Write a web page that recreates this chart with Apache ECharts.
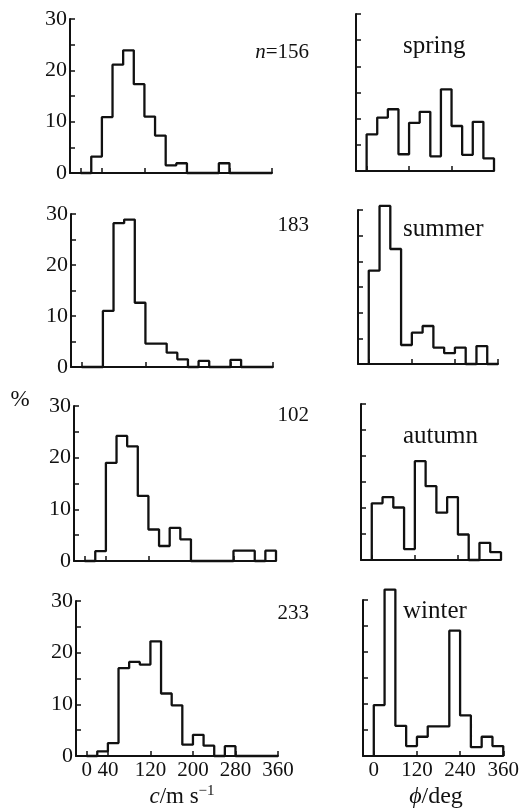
<!DOCTYPE html>
<html>
<head>
    <meta charset="utf-8">
    <title>speed / direction histograms</title>
    <style>
        html, body { margin: 0; padding: 0; background: #fff; }
        #main { width: 522px; height: 808px; }
    </style>
</head>
<body>
    <div id="main"></div>
    <script src="https://cdn.jsdelivr.net/npm/echarts@6/dist/echarts.min.js"></script>
    <script>
        // bin edges
        var speedEdges = [0, 20, 40, 60, 80, 100, 120, 140, 160, 180, 200, 220, 240, 260, 280, 300, 320, 340, 360];
        var dirEdges = [0, 30, 60, 90, 120, 150, 180, 210, 240, 270, 300, 330, 360];
        var speedTicks = [0, 40, 120, 200, 280, 360];
        var dirTicks = [0, 120, 240, 360];
        var seasons = ['spring', 'summer', 'autumn', 'winter'];
        var counts = ['156', '183', '102', '233'];

        // % per bin, speed c (m/s)
        var speedSpring = [0, 3.2, 10.9, 21.1, 23.9, 17.3, 11.0, 7.3, 1.5, 1.9, 0, 0, 0, 1.9, 0, 0, 0, 0];
        var speedSummer = [0, 0, 11.0, 28.2, 28.9, 12.6, 4.6, 4.6, 2.8, 1.5, 0, 1.2, 0, 0, 1.4, 0, 0, 0];
        var speedAutumn = [0, 1.9, 19.0, 24.2, 22.2, 12.6, 6.1, 2.9, 6.4, 4.2, 0, 0, 0, 0, 2.0, 2.0, 0, 2.0];
        var speedWinter = [0, 0.9, 2.5, 17.0, 18.2, 17.7, 22.2, 12.1, 9.8, 2.2, 4.1, 2.0, 0, 1.9, 0, 0, 0, 0];

        // % per bin, direction phi (deg)
        var dirSpring = [7.0, 10.2, 11.8, 3.2, 9.2, 11.3, 2.8, 15.6, 8.6, 3.1, 9.4, 2.4];
        var dirSummer = [18.2, 30.8, 22.4, 3.7, 6.1, 7.4, 3.2, 2.1, 3.2, 0, 3.5, 0];
        var dirAutumn = [10.9, 12.1, 10.1, 2.1, 19.0, 14.2, 9.1, 12.1, 4.9, 0, 3.3, 1.5];
        var dirWinter = [9.8, 32.0, 5.8, 1.9, 3.7, 5.7, 5.7, 24.1, 7.8, 1.7, 3.7, 1.9];

        var speedData = [speedSpring, speedSummer, speedAutumn, speedWinter];
        var dirData = [dirSpring, dirSummer, dirAutumn, dirWinter];

        var ink = '#111';
        var serif = '"Liberation Serif", "DejaVu Serif", serif';

        // panel boxes (px)
        var leftBoxes = [
            {left: 70, top: 19, width: 202, height: 154},
            {left: 71, top: 214, width: 202, height: 153},
            {left: 74, top: 406, width: 202, height: 155},
            {left: 76, top: 601, width: 202, height: 155}
        ];
        var rightBoxes = [
            {left: 356, top: 14, width: 138, height: 157},
            {left: 358, top: 210, width: 140, height: 154},
            {left: 361, top: 404, width: 140, height: 156},
            {left: 363, top: 600, width: 141, height: 156}
        ];

        // outline of a histogram: steps built from bin edges and values
        function outline(edges, vals) {
            var pts = [[edges[0], 0]];
            for (var i = 0; i < vals.length; i++) {
                pts.push([edges[i], vals[i]]);
                pts.push([edges[i + 1], vals[i]]);
            }
            pts.push([edges[vals.length], 0]);
            return pts;
        }

        var grids = [], xAxes = [], yAxes = [], series = [];

        function addPanel(box, min, ticks, showX, showY, edges, vals) {
            var k = grids.length;
            grids.push({left: box.left, top: box.top, width: box.width, height: box.height});
            xAxes.push({
                gridIndex: k, type: 'value', min: min, max: 360,
                axisLine: {onZero: false, lineStyle: {color: ink, width: 2}},
                axisTick: {inside: true, length: 5, customValues: ticks, lineStyle: {color: ink, width: 1.5}},
                axisLabel: {show: showX, customValues: ticks, margin: 4, color: ink,
                    fontFamily: serif, fontSize: 21},
                splitLine: {show: false}
            });
            yAxes.push({
                gridIndex: k, type: 'value', min: 0, max: 30, interval: 5,
                axisLine: {show: true, onZero: false, lineStyle: {color: ink, width: 2}},
                axisTick: {inside: true, length: 5, lineStyle: {color: ink, width: 1.5}},
                axisLabel: {show: showY, margin: 3, color: ink, fontFamily: serif, fontSize: 22,
                    formatter: function (v) { return v % 10 === 0 ? String(v) : ''; }},
                splitLine: {show: false}
            });
            series.push({
                type: 'line', xAxisIndex: k, yAxisIndex: k,
                data: outline(edges, vals), symbol: 'none', clip: false,
                lineStyle: {color: ink, width: 2.3}, silent: true
            });
        }

        for (var s = 0; s < 4; s++) {
            addPanel(leftBoxes[s], -20, speedTicks, s === 3, true, speedEdges, speedData[s]);
            addPanel(rightBoxes[s], -30, dirTicks, s === 3, false, dirEdges, dirData[s]);
        }

        var countY = [52, 225, 415, 613];
        var seasonY = [46, 229, 436, 611];
        var texts = [];
        for (var j = 0; j < 4; j++) {
            texts.push({
                type: 'text', x: 309, y: countY[j],
                style: {
                    text: j === 0 ? '{it|n}=' + counts[j] : counts[j],
                    font: '21px ' + serif, fill: ink, align: 'right', verticalAlign: 'middle',
                    rich: {it: {fontStyle: 'italic', fontSize: 21, fontFamily: serif}}
                }
            });
            texts.push({
                type: 'text', x: 403, y: seasonY[j],
                style: {text: seasons[j], font: '25px ' + serif, fill: ink, align: 'left', verticalAlign: 'middle'}
            });
        }
        texts.push({
            type: 'text', x: 20, y: 400,
            style: {text: '%', font: '23px ' + serif, fill: ink, align: 'center', verticalAlign: 'middle'}
        });
        texts.push({
            type: 'text', x: 182, y: 797,
            style: {
                text: '{it|c}/m s{sup|−1}', font: '23px ' + serif, fill: ink, align: 'center', verticalAlign: 'middle',
                rich: {
                    it: {fontStyle: 'italic', fontSize: 23, fontFamily: serif},
                    sup: {fontSize: 15, fontFamily: serif, padding: [0, 0, 12, 0]}
                }
            }
        });
        texts.push({
            type: 'text', x: 436, y: 797,
            style: {
                text: '{it|ϕ}/deg', font: '24px ' + serif, fill: ink, align: 'center', verticalAlign: 'middle',
                rich: {it: {fontStyle: 'italic', fontSize: 24, fontFamily: serif}}
            }
        });

        var myChart = echarts.init(document.getElementById('main'));
        var option = {
            animation: false,
            backgroundColor: '#fff',
            grid: grids,
            xAxis: xAxes,
            yAxis: yAxes,
            series: series,
            graphic: texts
        };
        myChart.setOption(option);
    </script>
</body>
</html>
